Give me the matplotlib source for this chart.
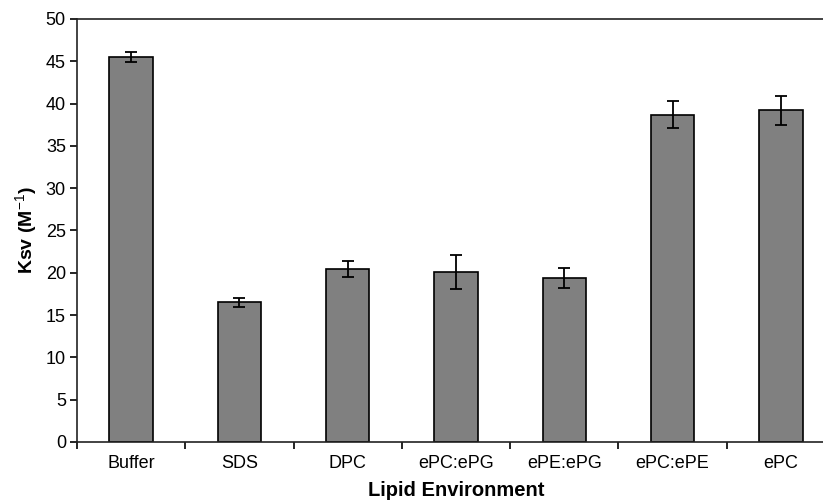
import numpy as np
import matplotlib.pyplot as plt

# Stern-Volmer constants per lipid environment
categories = ['Buffer', 'SDS', 'DPC', 'ePC:ePG', 'ePE:ePG', 'ePC:ePE', 'ePC']
ksv = [45.5, 16.5, 20.5, 20.1, 19.4, 38.7, 39.2]
ksv_err = [0.6, 0.55, 0.95, 2.0, 1.2, 1.55, 1.75]

plt.rcParams['font.family'] = ['Liberation Sans', 'DejaVu Sans']
plt.rcParams['mathtext.fontset'] = 'custom'
plt.rcParams['mathtext.rm'] = 'Liberation Sans'

fig = plt.figure(figsize=(8.23, 5.01), dpi=100)
ax = fig.add_axes([77 / 823, 59 / 501, 758 / 823, 423 / 501])

x = np.arange(len(categories))
ax.bar(x, ksv, width=0.4, color='#808080', edgecolor='black', linewidth=1.2,
       yerr=ksv_err, capsize=4, error_kw=dict(elinewidth=1.3, capthick=1.3, ecolor='black'))

ax.set_xlim(-0.5, len(categories) - 0.5)
ax.set_ylim(0, 50)
ax.set_yticks(range(0, 51, 5))

ax.set_xticks(x)
ax.set_xticklabels(categories)
ax.set_xticks(np.arange(-0.5, len(categories), 1), minor=True)
ax.tick_params(axis='x', which='major', length=0, pad=9, labelsize=13)
ax.tick_params(axis='x', which='minor', length=5, width=1.2, direction='out')
ax.tick_params(axis='y', length=5, width=1.2, direction='out', labelsize=13, pad=3)

for s in ax.spines.values():
    s.set_linewidth(1.2)
    s.set_color('#222222')

ax.set_xlabel('Lipid Environment', fontsize=14.5, fontweight='bold', labelpad=7)
ax.set_ylabel('Ksv (M$^{\\mathrm{-1}}$)', fontsize=14, fontweight='bold', labelpad=4)

fig.savefig('out.png', dpi=100)
